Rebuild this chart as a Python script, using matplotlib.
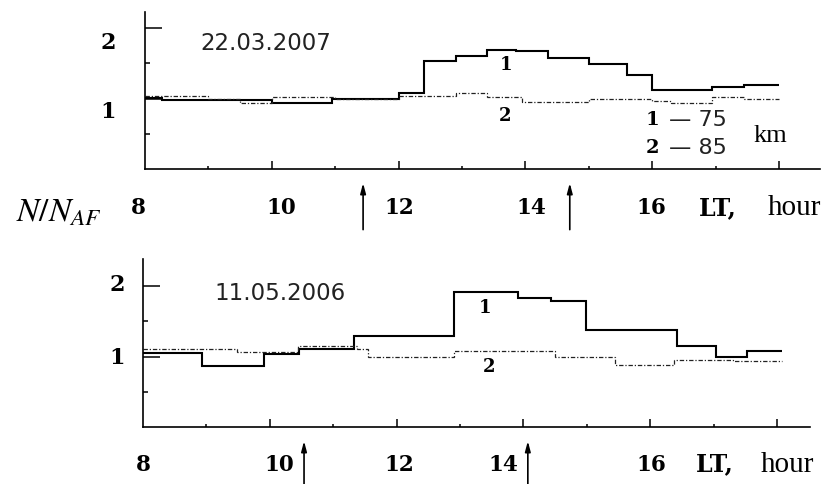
import numpy as np
import matplotlib.pyplot as plt

plt.rcParams['mathtext.fontset'] = 'stix'

# --- data (hours LT, N/N_AF) ---
hour_ticks = [8, 10, 12, 14, 16]

# 22.03.2007
top_edges1 = [8, 8.27, 10, 10.95, 12, 12.4, 12.9, 13.4, 13.85, 14.35, 15.0, 15.6, 16.0, 16.95, 17.45, 18.0]
top_vals1 = [1.01, 0.98, 0.93, 0.99, 1.08, 1.53, 1.60, 1.69, 1.67, 1.57, 1.49, 1.33, 1.12, 1.16, 1.19]
top_edges2 = [8, 9, 9.5, 10, 11, 12, 12.9, 13.4, 13.95, 15.0, 16.0, 16.3, 16.95, 17.45, 18.0]
top_vals2 = [1.04, 1.00, 0.93, 1.02, 1.00, 1.04, 1.08, 1.02, 0.95, 1.00, 0.96, 0.93, 1.02, 0.99]
top_arrows = [11.44, 14.7]

# 11.05.2006
bot_edges1 = [8, 8.93, 9.91, 10.46, 11.33, 12.9, 13.91, 14.44, 14.99, 16.42, 17.04, 17.53, 18.08]
bot_vals1 = [1.05, 0.87, 1.03, 1.10, 1.29, 1.91, 1.83, 1.79, 1.38, 1.15, 0.99, 1.08]
bot_edges2 = [8, 9.48, 10.44, 11.37, 11.55, 12.9, 14.5, 15.45, 16.38, 17.3, 18.08]
bot_vals2 = [1.11, 1.06, 1.15, 1.10, 0.99, 1.08, 0.99, 0.88, 0.95, 0.93]
bot_arrows = [10.54, 14.07]

W, H = 828, 485
PXH = 63.4    # px per hour
PXU = 70.5    # px per unit of N/N_AF

fig = plt.figure(figsize=(W / 100, H / 100), dpi=100)

serif = 'Liberation Serif'
bold = 'DejaVu Serif'
sans = 'DejaVu Sans'


def make_axes(left, right, top, bottom):
    ax = fig.add_axes([left / W, 1 - bottom / H, (right - left) / W, (bottom - top) / H])
    ax.set_xlim(8, 8 + (right - left) / PXH)
    ax.set_ylim(0, (bottom - top) / PXU)
    for s in ['top', 'right']:
        ax.spines[s].set_visible(False)
    for s in ['left', 'bottom']:
        ax.spines[s].set_linewidth(1.2)
    ax.set_xticks(range(10, 19, 2))
    ax.set_xticks(range(9, 19, 2), minor=True)
    ax.set_yticks([1, 2])
    ax.set_yticks([0.5, 1.5], minor=True)
    ax.tick_params(axis='x', which='major', direction='in', length=6, width=1.1)
    ax.tick_params(axis='x', which='minor', direction='in', length=2.5, width=1.1)
    ax.tick_params(axis='y', which='major', direction='in', length=12, width=1.1)
    ax.tick_params(axis='y', which='minor', direction='in', length=3.5, width=1.1)
    ax.tick_params(labelbottom=False, labelleft=False)
    return ax


def draw_panel(ax, e1, v1, e2, v2, arrows, date, date_xy, lab1, lab2,
               ylabs, xlab_y, xlab_shift, lt_x, hour_x):
    ax.stairs(v1, e1, baseline=None, color='black', lw=1.5)
    ax.stairs(v2, e2, baseline=None, color='#222222', lw=0.9, ls=(0, (3.5, 1.5, 1, 1.5)))
    ax.text(*date_xy, date, fontsize=16.5, family=sans, ha='center', va='center',
            color='#222222')
    ax.text(*lab1, '1', fontsize=13, family=bold, weight='bold', ha='center', va='center')
    ax.text(*lab2, '2', fontsize=13, family=bold, weight='bold', ha='center', va='center')
    for val, (x, y) in ylabs:
        ax.text(x, y, val, fontsize=16, family=bold, weight='bold', ha='center',
                va='center', clip_on=False)
    for h, dx in zip(hour_ticks, xlab_shift):
        ax.text(h + dx / PXH, xlab_y, str(h), fontsize=15.5, family=bold, weight='bold',
                ha='center', va='center', clip_on=False)
    ax.text(lt_x, xlab_y, 'LT,', fontsize=17, family=bold, weight='bold',
            ha='center', va='center', clip_on=False)
    ax.text(hour_x, xlab_y, 'hour', fontsize=21, family=serif,
            ha='center', va='center', clip_on=False)
    for a in arrows:
        ax.annotate('', xy=(a, -0.2), xytext=(a, -0.86), annotation_clip=False,
                    arrowprops=dict(arrowstyle='-|>,head_length=0.6,head_width=0.16',
                                    color='black', lw=1.2, shrinkA=0, shrinkB=0))


ax1 = make_axes(145, 820, 13, 170)
draw_panel(ax1, top_edges1, top_vals1, top_edges2, top_vals2, top_arrows,
           '22.03.2007', (9.91, 1.80), (13.69, 1.49), (13.68, 0.77),
           [('2', (7.42, 1.80)), ('1', (7.42, 0.82))],
           -0.54, [-7, 10, 1, 6, -1], 17.04, 18.25)
# height legend
ax1.text(16.0, 0.71, '1', fontsize=14, family=bold, weight='bold', ha='center', va='center')
ax1.text(16.27, 0.71, '\u2014 75', fontsize=16, family=sans, ha='left', va='center',
         color='#222222')
ax1.text(16.0, 0.31, '2', fontsize=14, family=bold, weight='bold', ha='center', va='center')
ax1.text(16.27, 0.31, '\u2014 85', fontsize=16, family=sans, ha='left', va='center',
         color='#222222')
ax1.text(17.86, 0.48, 'km', fontsize=19, family=serif, ha='center', va='center')

ax2 = make_axes(143, 810, 260, 428)
draw_panel(ax2, bot_edges1, bot_vals1, bot_edges2, bot_vals2, bot_arrows,
           '11.05.2006', (10.16, 1.91), (13.39, 1.70), (13.46, 0.87),
           [('2', (7.59, 2.03)), ('1', (7.59, 0.99))],
           -0.52, [0, 10, 3, -20, 1], 17.02, 18.17)

fig.text(59 / W, 1 - 212 / H, r'$N/N_{AF}$', fontsize=24, ha='center', va='center')

fig.savefig('out.png', dpi=100)
